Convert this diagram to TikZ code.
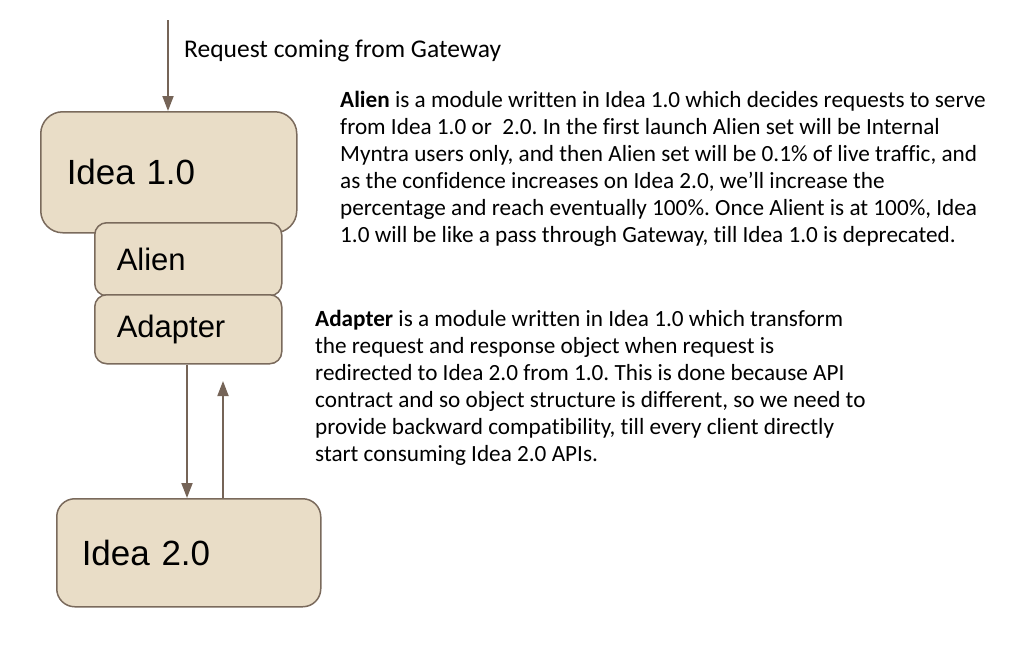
\documentclass[tikz,border=0pt]{standalone}
\usepackage{fontspec}
\setmainfont[Ligatures=NoCommon]{Carlito}
\newfontfamily\boxfont{Liberation Sans}
\usetikzlibrary{arrows.meta,positioning}

\definecolor{boxfill}{HTML}{E9DDC7}
\definecolor{boxline}{HTML}{7A6A5C}
\definecolor{arrowcol}{HTML}{756457}

\tikzstyle{module}=[draw=boxline,fill=boxfill,line width=1.5pt,anchor=north west,align=left,inner ysep=0pt]
\tikzstyle{flow}=[draw=arrowcol,line width=1.8pt,-{Triangle[length=15pt,width=11pt]}]
\tikzstyle{note}=[inner sep=0pt,align=left,font=\fontsize{23.2}{27}\selectfont]

\begin{document}
\frenchspacing
\begin{tikzpicture}[x=1pt,y=-1pt]
			\useasboundingbox (0,0) rectangle (1024,646);
			% modules
			\node[module,rounded corners=22pt,inner xsep=26pt,text width=204pt,minimum height=121pt,
				font=\boxfont\fontsize{35}{42}\selectfont] (idea1) at (40,111) {Idea 1.0};
			\node[module,rounded corners=12pt,inner xsep=22pt,text width=143pt,minimum height=73pt,
				font=\boxfont\fontsize{31}{37}\selectfont] (alien) at (94,222) {Alien};
			\node[module,rounded corners=12pt,inner xsep=22pt,text width=143pt,minimum height=69pt,
				font=\boxfont\fontsize{31}{37}\selectfont] (adapter) at (94,294) {Adapter};
			\node[module,rounded corners=18pt,inner xsep=25pt,text width=214pt,minimum height=108pt,
				font=\boxfont\fontsize{35}{42}\selectfont] (idea2) at (56,498) {Idea 2.0};
			% arrows
			\coordinate (gw) at (168,20);
			\coordinate (dn) at (187,0);
			\coordinate (ret) at (223,381);
			\draw[flow] (gw) -- (gw |- idea1.north);
			\draw[flow] (adapter.south -| dn) -- (idea2.north -| dn);
			\draw[flow] (idea2.north -| ret) -- (ret);
			% texts
			\node[note,anchor=base west,font=\fontsize{25.5}{30}\selectfont] (gwtext) at (184,57) {Request coming from Gateway};
			\node[note,anchor=north west] (alientext) at (340,91) {\textbf{Alien} is a module written in Idea 1.0 which decides requests to serve\\
				from Idea 1.0 or\ \ 2.0. In the first launch Alien set will be Internal\\
				Myntra users only, and then Alien set will be 0.1\% of live traffic, and\\
				as the confidence increases on Idea 2.0, we’ll increase the\\
				percentage and reach eventually 100\%. Once Alient is at 100\%, Idea\\
				1.0 will be like a pass through Gateway, till Idea 1.0 is deprecated.};
			\node[note,anchor=north west] (adaptertext) at (315,310) {\textbf{Adapter} is a module written in Idea 1.0 which transform\\
				the request and response object when request is\\
				redirected to Idea 2.0 from 1.0. This is done because API\\
				contract and so object structure is different, so we need to\\
				provide backward compatibility, till every client directly\\
				start consuming Idea 2.0 APIs.};
		\end{tikzpicture}
\end{document}
